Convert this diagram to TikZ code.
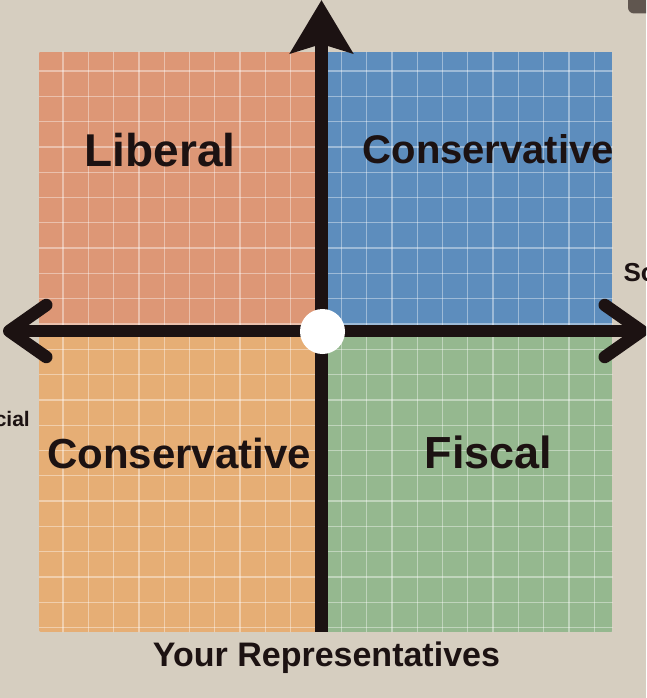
\documentclass[tikz,border=0pt]{standalone}
\usepackage{fontspec}
\setmainfont{Liberation Sans}
\usetikzlibrary{arrows.meta}
\definecolor{paper}{RGB}{214,206,192}
\definecolor{liberalfill}{RGB}{221,151,118}
\definecolor{consfill}{RGB}{93,141,189}
\definecolor{leftfill}{RGB}{230,174,117}
\definecolor{fiscalfill}{RGB}{149,184,143}
\definecolor{axisink}{RGB}{28,18,18}
\definecolor{cornerdark}{RGB}{96,86,79}

\begin{document}
\begin{tikzpicture}[
    x=1pt, y=-1pt,
    gridline/.style={draw=white, opacity=0.4, line width=1.3pt},
    axis/.style={draw=axisink, line width=12.5pt},
    quad/.style={font=\fontsize{#1}{#1}\selectfont\bfseries, anchor=base, inner sep=0pt, text=axisink},
]

% Frame
\useasboundingbox (0,0) rectangle (646,698);
\clip (0,0) rectangle (646,698);
\fill[paper] (0,0) rectangle (646,698);
\fill[cornerdark, rounded corners=6pt] (628,-10) rectangle (656,13.5);

% Quadrants with their tile grid
\foreach \tint/\xa/\ya/\xb/\yb in {liberalfill/39/51.7/321/331, consfill/321/51.7/612.7/331, leftfill/39/331/321/632, fiscalfill/321/331/612.7/632} {
  \begin{scope}
    \clip[rounded corners=2pt] (\xa,\ya) rectangle (\xb,\yb);
    \fill[\tint] (\xa,\ya) rectangle (\xb,\yb);
    \foreach \gx in {12.4,37.7,...,630} {
      \draw[gridline] (\gx,40) -- (\gx,640);
    }
    \foreach \gy in {45.7,71,...,640} {
      \draw[gridline] (30,\gy) -- (620,\gy);
    }
  \end{scope}
}

% Axes
\draw[axis, -{Stealth[length=53pt, width=62pt, inset=9pt]}] (321.5,632) -- (321.5,0);
\draw[axis, {Straight Barb[length=37pt, width=52pt, round]}-{Straight Barb[length=37pt, width=52pt, round]}] (3,331) -- (648,331);
\node[circle, fill=white, minimum size=45pt, inner sep=0pt] (origin) at (322.5,331.5) {};

% Labels
\node[quad=46] (liberal) at (160,166.7) {Liberal};
\node[quad=40] (consTop) at (488.3,163.3) {Conservative};
\node[quad=42] (consBottom) at (179,468.3) {Conservative};
\node[quad=45] (fiscal) at (488.3,468.3) {Fiscal};
\node[quad=34] (reps) at (326.5,666.5) {Your Representatives};
\node[quad=26, anchor=base west] (socialTop) at (623.3,281.7) {So};
\node[quad=21, anchor=base east] (socialLeft) at (30,426) {cial};

\end{tikzpicture}
\end{document}
